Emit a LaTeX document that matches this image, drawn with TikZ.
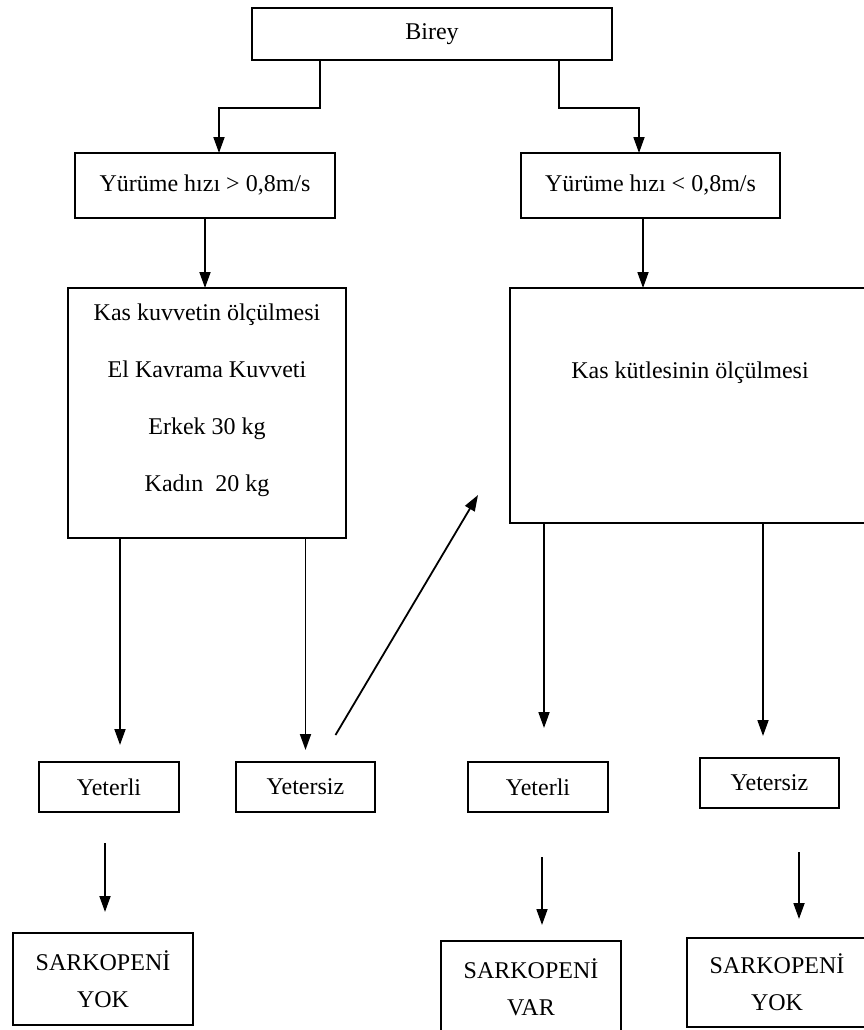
\documentclass[tikz,border=0pt]{standalone}
\usepackage{fontspec}
\setmainfont{Liberation Serif}
\usetikzlibrary{arrows.meta}
\usetikzlibrary{positioning}

\begin{document}
\begin{tikzpicture}[x=1pt,y=-1pt,font=\fontsize{24}{28}\selectfont,line width=1.8pt]
  \tikzset{box/.style={rectangle, draw, minimum height=52pt, inner sep=0pt, outer sep=0pt}}
  \tikzset{result/.style={rectangle, draw, align=center,
      minimum width=180pt,
      minimum height=92pt,
      inner sep=0pt,
      outer sep=0pt,
      font=\fontsize{24}{37}\selectfont}}
  \tikzset{flow/.style={-{Triangle[length=16pt,width=11pt]}}}
  \useasboundingbox (0,0) rectangle (864,1030);
  \node[box, minimum width=360pt] (birey) at (432,34) {Birey};
  \node[box, minimum width=260pt, minimum height=65pt] (hizlo) [below=93pt of birey, xshift=-227pt] {Yürüme hızı > 0,8m/s};
  \node[box, minimum width=259pt, minimum height=65pt] (hizhi) [below=93pt of birey, xshift=218.5pt] {Yürüme hızı < 0,8m/s};
  \node[box, minimum width=278pt, minimum height=250pt] (kuvvet) [below=70pt of hizlo, xshift=2pt] {};
  \node[align=center, inner sep=0pt, font=\fontsize{24}{57}\selectfont] (kuvvettext) [below=15pt of kuvvet.north]
    {Kas kuvvetin ölçülmesi\\El Kavrama Kuvveti\\Erkek 30 kg\\Kadın\ \ 20 kg};
  \node[box, minimum width=356pt, minimum height=235pt] (kutle) [below=70pt of hizhi, xshift=37.5pt] {};
  \node[inner sep=0pt] (kutletext) [below=73pt of kutle.north, xshift=2pt] {Kas kütlesinin ölçülmesi};
  \node[box, minimum width=140pt, minimum height=50pt] (yeterliA) [below=224pt of kuvvet, xshift=-98pt] {Yeterli};
  \node[box, minimum width=139pt, minimum height=50pt] (yetersizA) [right=57pt of yeterliA] {Yetersiz};
  \node[box, minimum width=140pt, minimum height=50pt] (yeterliB) [right=93pt of yetersizA] {Yeterli};
  \node[box, minimum width=139pt, minimum height=50pt] (yetersizB) [right=92pt of yeterliB, yshift=4pt] {Yetersiz};
  \node[result] (sonA) [below=121pt of yeterliA, xshift=-6pt] {SARKOPENİ\\YOK};
  \node[result] (sonB) [below=129pt of yeterliB, xshift=-7pt] {SARKOPENİ\\VAR};
  \node[result, minimum height=89pt] (sonC) [below=130pt of yetersizB, xshift=7.5pt] {SARKOPENİ\\YOK};
  \draw[flow] ([xshift=-112pt]birey.south) -- ++(0,48) -| ([xshift=14pt]hizlo.north);
  \draw[flow] ([xshift=127pt]birey.south) -- ++(0,48) -| ([xshift=-11.5pt]hizhi.north);
  \draw[flow] (hizlo.south) -- (hizlo.south |- kuvvet.north);
  \draw[flow] ([xshift=-7.5pt]hizhi.south) -- ([xshift=-7.5pt]hizhi.south |- kutle.north);
  \draw[flow, shorten >=17pt] ([xshift=11pt]yeterliA.north |- kuvvet.south) -- ([xshift=11pt]yeterliA.north);
  \draw[flow, shorten >=12pt] (yetersizA.north |- kuvvet.south) -- (yetersizA.north);
  \draw[flow] ([xshift=30pt,yshift=27pt]yetersizA.north) -- ([xshift=-32pt,yshift=28pt]kutle.south west);
  \draw[flow, shorten >=34pt] ([xshift=6pt]yeterliB.north |- kutle.south) -- ([xshift=6pt]yeterliB.north);
  \draw[flow, shorten >=22pt] ([xshift=-6.5pt]yetersizB.north |- kutle.south) -- ([xshift=-6.5pt]yetersizB.north);
  \draw[flow, shorten <=31pt, shorten >=21pt] ([xshift=-4pt]yeterliA.south) -- ([xshift=-4pt]yeterliA.south |- sonA.north);
  \draw[flow, shorten <=45pt, shorten >=16pt] ([xshift=4pt]yeterliB.south) -- ([xshift=4pt]yeterliB.south |- sonB.north);
  \draw[flow, shorten <=44pt, shorten >=19pt] ([xshift=29.5pt]yetersizB.south) -- ([xshift=29.5pt]yetersizB.south |- sonC.north);
\end{tikzpicture}
\end{document}
